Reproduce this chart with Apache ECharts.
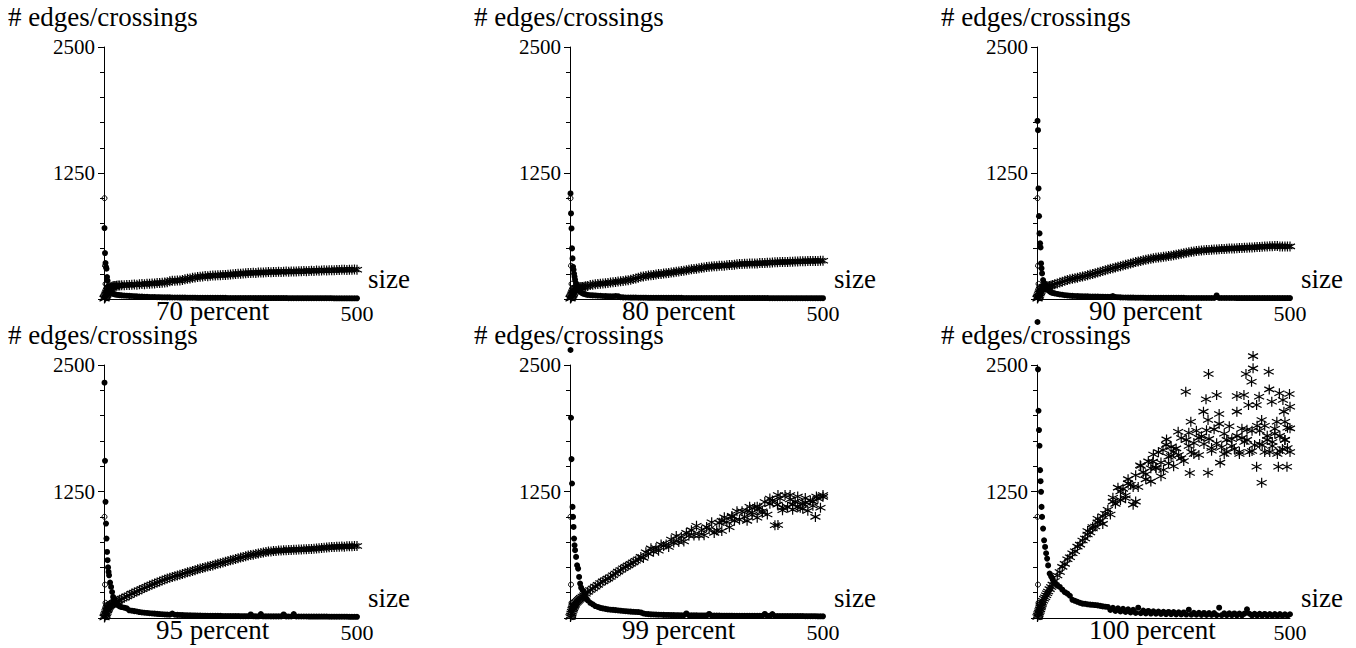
<!DOCTYPE html>
<html><head><meta charset="utf-8">
<script src="https://cdn.jsdelivr.net/npm/echarts@6/dist/echarts.min.js"></script>
<style>html,body{margin:0;padding:0;background:#fff;}#c{width:1356px;height:648px;}</style>
</head><body><div id="c"></div>
<script>
// ---------------- data ----------------
const sizes = [1,2,3,4,5,6,7,8,9,10,12,14,16,18,20,22,25,28,31,35,
 40,45,50,55,60,65,70,75,80,85,
 90,95,100,105,110,115,120,125,130,135,
 140,145,150,155,160,165,170,175,180,185,
 190,195,200,205,210,215,220,225,230,235,
 240,245,250,255,260,265,270,275,280,285,
 290,295,300,305,310,315,320,325,330,335,
 340,345,350,355,360,365,370,375,380,385,
 390,395,400,405,410,415,420,425,430,435,
 440,445,450,455,460,465,470,475,480,485,
 490,495,500];

const edges70 = [4,12,22,34,46,58,70,82,92,102,112,118,122,126,128,130,131,133,135,136,
 137,140,139,142,143,141,146,148,147,151,
 152,155,154,158,159,162,163,167,176,180,
 182,184,183,188,195,200,204,210,213,218,
 221,223,227,226,230,232,233,236,235,238,
 239,241,242,246,247,250,251,254,255,258,
 258,260,259,263,262,264,265,267,266,269,
 268,270,269,271,272,271,273,274,273,276,
 275,277,276,279,280,279,282,281,283,284,
 283,285,286,285,288,287,289,290,288,291,
 290,292,291];
const cross70 = [704,456,357,317,300,218,180,122,100,85,72,63,58,52,48,45,42,40,38,36,
 34,33,31,30,28,27,25,24,22,21,
 20,19,19,18,18,17,17,16,16,15,
 15,15,14,14,14,13,13,13,13,12,
 12,12,12,12,11,11,11,11,11,11,
 11,10,10,10,10,10,10,10,10,10,
 10,10,9,9,9,9,9,9,9,9,
 9,9,9,9,9,8,8,8,8,8,
 8,8,8,8,8,8,8,8,8,8,
 8,8,8,7,7,7,7,7,7,7,
 7,7,7];

const edges80 = [4,12,22,34,46,58,70,82,92,100,108,112,115,116,117,118,120,122,126,130,
 139,141,146,148,151,155,157,159,163,167,
 169,173,176,179,184,187,192,198,203,211,
 221,224,229,233,236,239,243,247,249,253,
 256,259,264,266,270,274,277,280,286,291,
 294,298,301,304,310,313,318,319,322,325,
 326,329,330,331,334,337,338,340,344,347,
 347,349,349,351,351,353,353,356,356,358,
 359,360,362,364,364,366,366,368,368,369,
 370,372,372,374,374,375,377,376,378,377,
 378,379,379];
const cross80 = [1047,849,700,502,403,320,290,250,220,190,155,120,100,90,75,65,55,50,45,40,
 38,36,35,33,32,30,29,28,27,26,
 30,28,18,16,15,15,14,14,14,13,
 13,13,13,12,12,12,12,12,12,12,
 11,11,11,11,11,11,11,10,10,10,
 10,10,10,10,10,10,10,10,10,10,
 10,9,9,9,9,9,9,9,9,9,
 9,9,9,9,9,9,9,9,9,9,
 9,8,8,8,8,8,8,8,8,8,
 8,8,8,8,8,8,8,8,8,8,
 8,8,8];

const edges90 = [4,14,26,40,54,68,80,92,102,110,116,120,122,124,125,127,130,134,139,146,
 155,163,172,180,188,195,200,206,212,218,
 223,228,236,242,249,256,264,271,278,285,
 292,299,306,313,320,326,333,339,345,351,
 360,366,372,378,384,389,395,400,404,408,
 411,414,418,422,426,430,435,440,445,450,
 455,460,464,468,472,475,478,481,484,486,
 487,489,491,492,494,495,497,498,500,501,
 502,503,505,506,508,509,511,512,513,515,
 516,518,520,521,523,524,525,525,522,520,
 520,521,522];
const cross90 = [1767,1675,1097,822,651,552,512,353,304,254,188,160,139,115,95,89,75,65,60,56,
 50,45,42,38,35,33,31,30,29,28,
 27,26,26,25,25,24,24,23,23,22,
 22,22,30,20,18,16,15,15,14,14,
 14,13,13,13,13,12,12,12,12,12,
 12,11,11,11,11,11,11,11,11,11,
 11,10,10,10,10,10,10,10,10,10,
 10,10,10,35,10,10,10,10,10,10,
 10,9,9,9,9,9,9,9,9,9,
 9,9,9,9,9,9,9,9,9,9,
 9,9,9];

const edges95 = [5,16,30,45,60,75,88,100,110,118,125,132,138,144,150,155,163,172,180,190,
 200,214,225,241,251,262,275,285,298,308,
 320,331,340,351,360,371,380,390,397,406,
 413,421,428,435,443,452,458,465,473,482,
 488,494,501,509,514,520,528,536,542,548,
 556,564,570,576,584,591,597,603,610,618,
 622,626,632,638,642,646,652,656,658,662,
 663,666,668,669,670,673,672,675,675,677,
 677,679,680,682,683,684,686,690,691,693,
 696,699,701,701,704,703,706,705,708,709,
 709,711,711];
const cross95 = [2325,1553,1148,933,785,653,571,500,455,422,350,307,257,208,180,158,140,125,115,108,
 102,95,76,72,68,64,59,55,52,50,
 47,45,43,41,39,37,35,34,33,43,
 32,31,30,29,28,27,26,25,25,24,
 24,23,23,22,22,22,21,21,21,20,
 20,20,19,19,19,19,18,18,18,18,
 35,18,17,17,38,17,17,17,16,16,
 16,16,16,35,16,15,15,38,15,15,
 15,15,15,14,14,14,14,14,14,14,
 14,13,13,13,13,13,13,13,13,12,
 12,12,12];

const edges99 = [10,25,45,62,80,95,109,120,130,140,150,160,170,180,190,200,212,225,240,258,
 277,292,310,327,345,362,375,389,405,423,
 440,458,475,492,505,520,535,550,565,580,
 604,594,650,636,688,654,692,665,727,712,
 727,702,776,745,810,751,800,756,841,812,
 868,816,911,816,864,818,898,879,946,841,
 867,940,860,995,948,896,1009,962,1054,970,
 1055,1000,960,1100,1042,1095,990,1090,1055,1146,
 1022,1128,1162,917,1120,1180,1065,1215,1098,1171,
 1070,1150,1200,1090,1130,1185,1060,1160,1110,999,
 1180,1090,1197];
const cross99 = [2648,1979,1570,1329,1098,999,900,785,719,670,604,521,488,406,340,300,274,224,195,175,
 150,135,118,109,100,95,90,85,82,80,
 78,75,72,69,67,65,63,61,60,59,
 55,45,40,38,36,35,34,33,32,31,
 30,30,29,29,28,28,27,27,45,27,
 26,26,26,25,25,25,25,40,24,24,
 24,24,23,23,23,23,23,22,22,22,
 22,22,22,22,22,21,21,21,21,40,
 21,21,38,20,20,20,20,20,20,20,
 19,19,19,19,19,18,18,18,18,18,
 17,17,17];
const extra99X = [300,320,350,370,395,411,411,435,450,465,487,500,480,460,440,420,380,360];
const extra99Y = [960,1000,1060,1100,1180,1215,919,1215,1100,1140,1200,1215,1150,1080,1120,1090,1040,1020];

const edges100 = [10,25,40,55,70,85,105,120,135,150,170,190,205,225,245,262,285,307,330,365,
 420,455,505,535,580,600,640,660,705,725,
 765,785,825,845,885,905,945,960,1005,1030,
 1070,1022,1188,1128,1288,1167,1276,1184,1372,1317,
 1294,1410,1295,1502,1440,1370,1548,1479,1615,1487,
 1639,1537,1462,1711,1593,1691,1499,1676,1610,1778,
 1552,1760,1830,1640,1730,1850,1610,1795,1720,1855,
 1770,1652,1864,1726,1918,1688,1820,1642,1894,1766,
 1670,1800,1620,1870,1740,1760,1640,1850,1710,1900,
 1850,1710,1900,1760,1640,1740,1870,1620,1800,1670,
 1760,1880,1640];
const cross100 = [2925,2457,2048,1857,1702,1461,1352,1247,1098,999,884,768,702,640,587,520,439,410,380,350,
 320,307,280,255,241,220,180,170,160,150,
 142,140,135,132,130,128,125,120,115,112,
 109,80,100,70,95,65,90,60,85,55,
 80,50,102,48,74,45,70,44,66,42,
 64,40,62,38,60,37,58,36,56,35,
 55,34,82,33,52,32,51,31,50,30,
 49,30,48,29,102,28,47,27,46,27,
 45,26,44,26,43,86,42,25,42,25,
 41,24,40,24,39,23,39,23,38,22,
 37,22,37];
const extra100X = [427,427,413,424,458,339,294,334,355,395,409,439,459,479,499,464,486,488,500,329,360,395,418,434,
 304,338,444,474,490,500,256,279,434,477,494,444,338,302,362,204,229,249,190,195,
 270,300,310,320,345,370,375,385,400,405,415,425,440,450,455,465,470,480,490,495,
 215,225,235,245,260,265,285,150,165,175,180,120,130,110,100];
const extra100Y = [2588,2467,2411,2335,2434,2411,2236,2161,2203,2193,2203,2187,2259,2220,2213,2137,2154,2039,2088,2039,2015,2039,2104,2104,
 1940,1956,1956,1940,1940,1874,1765,1841,1495,1495,1495,1337,1436,1432,1535,1510,1545,1660,1120,1150,
 1640,1700,1620,1780,1680,1620,1760,1700,1640,1780,1860,1650,1720,1640,1800,1700,1820,1650,1760,1680,
 1420,1350,1480,1400,1530,1600,1580,1150,1250,1210,1330,980,930,900,860];

const circX = [1,2,3,4,5,6];
const circY = [1000,330,150,77,25,8];

const yTitle = '# edges/crossings';
const xTitle = 'size';
const captions = ['70 percent','80 percent','90 percent','95 percent','99 percent','100 percent'];
const edgeSets = [edges70, edges80, edges90, edges95, edges99, edges100];
const crossSets = [cross70, cross80, cross90, cross95, cross99, cross100];
const extraX = [null, null, null, null, extra99X, extra100X];
const extraY = [null, null, null, null, extra99Y, extra100Y];

// ---------------- layout ----------------
const FONT = 'Liberation Serif';
const colX = [104, 570, 1037];
const rowTop = [47, 365];
const rowH = [252, 253];
const W = 253;
const asterisk = 'path://M5,0L5,10M0.67,2.5L9.33,7.5M0.67,7.5L9.33,2.5';

const grids = [], xAxes = [], yAxes = [], series = [], titles = [];
function txt(x, yMid, s, size) {
  titles.push({text:s, left:x, top:yMid - size / 2, padding:0, itemGap:0,
    textStyle:{color:'#000', fontFamily:FONT, fontSize:size, fontWeight:'normal', lineHeight:size}});
}
captions.forEach((cap, i) => {
  const c = i % 3, r = Math.floor(i / 3);
  const left = colX[c], top = rowTop[r], h = rowH[r], base = top + h;
  grids.push({left:left, top:top, width:W, height:h, containLabel:false, outerBoundsMode:'none'});
  xAxes.push({gridIndex:i, type:'value', min:0, max:500, interval:500,
    axisLine:{show:true, onZero:false, lineStyle:{color:'#000', width:1}},
    axisTick:{show:false}, splitLine:{show:false},
    axisLabel:{show:true, showMinLabel:false, margin:3, color:'#000', fontFamily:FONT, fontSize:22,
      formatter: v => (v === 500 ? '500' : '')}});
  yAxes.push({gridIndex:i, type:'value', min:0, max:2500, interval:1250,
    axisLine:{show:true, onZero:false, lineStyle:{color:'#000', width:1}},
    axisTick:{show:true, length:6, lineStyle:{color:'#000', width:1}},
    minorTick:{show:true, splitNumber:5, length:4, lineStyle:{color:'#000', width:1}},
    splitLine:{show:false}, minorSplitLine:{show:false},
    axisLabel:{show:true, showMinLabel:false, margin:9, color:'#000', fontFamily:FONT, fontSize:21,
      formatter: v => (v === 0 ? '' : String(v))}});
  const common = {type:'scatter', xAxisIndex:i, yAxisIndex:i, clip:false, silent:true, animation:false};
  const starStyle = {color:'#000', borderColor:'#000', borderWidth:1.2, opacity:1};
  series.push(Object.assign({}, common, {symbol:'circle', symbolSize:6,
    itemStyle:{color:'#000', opacity:1}, data: sizes.map((s, k) => [s, crossSets[i][k]])}));
  series.push(Object.assign({}, common, {symbol:asterisk, symbolSize:10,
    itemStyle:starStyle, data: sizes.map((s, k) => [s, edgeSets[i][k]])}));
  if (extraX[i]) {
    series.push(Object.assign({}, common, {symbol:asterisk, symbolSize:10,
      itemStyle:starStyle, data: extraX[i].map((s, k) => [s, extraY[i][k]])}));
  }
  series.push(Object.assign({}, common, {symbol:'circle', symbolSize:5,
    itemStyle:{color:'rgba(0,0,0,0)', borderColor:'#000', borderWidth:1, opacity:1}, data: circX.map((s, k) => [s, circY[k]])}));
  // texts
  txt(left - 96, top - 30, yTitle, 27);
  txt(left + 52, base + 12, cap, 27);
  txt(left + 264, base - 20, xTitle, 27);
});

const chart = echarts.init(document.getElementById('c'), null, {renderer:'svg'});
chart.setOption({animation:false, backgroundColor:'#fff', title:titles, grid:grids, xAxis:xAxes, yAxis:yAxes, series:series});
</script></body></html>
